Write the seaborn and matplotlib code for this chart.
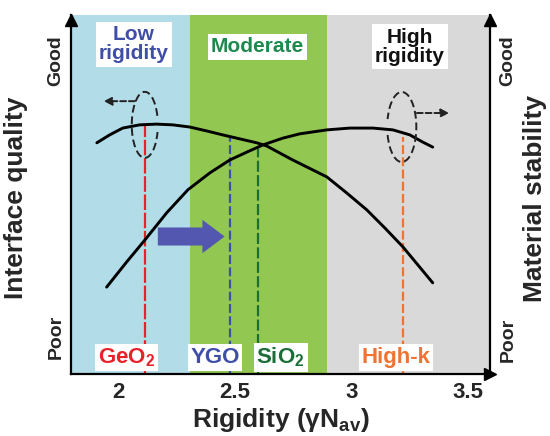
import numpy as np
import pandas as pd
import matplotlib
matplotlib.use("Agg")
import matplotlib.pyplot as plt
import seaborn as sns
from matplotlib.patches import Arc, FancyArrowPatch

# ---------------- data ----------------
region_labels = ["Low\nrigidity", "Moderate", "High\nrigidity"]
region_edges = [1.795, 2.305, 2.894, 3.595]
region_colors = ["#b1dce8", "#92c851", "#d9d9d9"]
region_text_colors = ["#3f4ea6", "#1d8a4e", "#111111"]
region_label_x = [2.064, 2.597, 3.25]
region_label_y = [0.919, 0.911, 0.911]

materials = ["GeO$_2$", "YGO", "SiO$_2$", "High-k"]
material_x = [2.112, 2.477, 2.597, 3.220]
material_top = [0.694, 0.660, 0.638, 0.660]
material_label_x = [2.034, 2.413, 2.696, 3.190]
material_colors = ["#e8212b", "#3f4fa8", "#1c6e38", "#ef7331"]

interface_x = [1.906, 1.961, 2.017, 2.090, 2.163, 2.232, 2.305, 2.378, 2.447,
               2.520, 2.593, 2.636, 2.748, 2.894, 2.980, 3.066, 3.143, 3.221,
               3.285, 3.349]
interface_y = [0.644, 0.666, 0.685, 0.694, 0.696, 0.694, 0.688, 0.677, 0.666,
               0.655, 0.644, 0.635, 0.596, 0.549, 0.504, 0.457, 0.407, 0.354,
               0.304, 0.254]

stability_x = [1.948, 2.034, 2.112, 2.206, 2.297, 2.391, 2.477, 2.550, 2.619,
               2.705, 2.778, 2.894, 2.993, 3.092, 3.178, 3.251, 3.306, 3.349]
stability_y = [0.242, 0.312, 0.373, 0.449, 0.513, 0.560, 0.596, 0.618, 0.638,
               0.657, 0.669, 0.680, 0.685, 0.685, 0.680, 0.666, 0.646, 0.632]

xticks = [2, 2.5, 3, 3.5]
xtick_labels = ["2", "2.5", "3", "3.5"]

# ---------------- style ----------------
sns.set_theme(style="white")
plt.rcParams["font.family"] = ["Liberation Sans", "DejaVu Sans"]
plt.rcParams["font.weight"] = "bold"
plt.rcParams["mathtext.fontset"] = "custom"
plt.rcParams["mathtext.rm"] = "Liberation Sans:bold"
plt.rcParams["mathtext.bf"] = "Liberation Sans:bold"
plt.rcParams["mathtext.it"] = "Liberation Sans:bold"
plt.rcParams["mathtext.default"] = "bf"

fig = plt.figure(figsize=(5.5, 4.36), dpi=100)
ax = fig.add_axes([0.1291, 0.1422, 0.7618, 0.8234])
ax.set_xlim(region_edges[0], region_edges[-1])
ax.set_ylim(0, 1)

# background regions
for i in range(3):
    ax.axvspan(region_edges[i], region_edges[i + 1], color=region_colors[i], lw=0, zorder=0)

# vertical material lines
dash_styles = [(7, 1.2), (4, 1.5), (5, 1.5), (4, 1.5)]
for xv, top, col, ds in zip(material_x, material_top, material_colors, dash_styles):
    ax.plot([xv, xv], [0, top], color=col, lw=1.6, dashes=ds, zorder=2)

# curves
df_a = pd.DataFrame({"x": interface_x, "y": interface_y})
df_b = pd.DataFrame({"x": stability_x, "y": stability_y})
sns.lineplot(data=df_a, x="x", y="y", ax=ax, color="black", lw=2.1, sort=False, zorder=3)
sns.lineplot(data=df_b, x="x", y="y", ax=ax, color="black", lw=2.1, sort=False, zorder=3)

# broken dashed ellipses and dashed arrows
ax.add_patch(Arc((2.112, 0.694), 0.112, 0.184, theta1=25, theta2=340, ec="#222222",
                 lw=1.4, ls=(0, (4, 2)), zorder=4))
ax.add_patch(Arc((3.216, 0.688), 0.125, 0.195, theta1=-160, theta2=160, ec="#222222",
                 lw=1.4, ls=(0, (4, 2)), zorder=4))
for (xs, xe, yy) in [(2.069, 1.935, 0.760), (3.281, 3.420, 0.727)]:
    ax.add_patch(FancyArrowPatch((xs, yy), (xe, yy), arrowstyle="-|>",
                                 mutation_scale=12, lw=1.4, ls=(0, (3, 1.5)),
                                 color="#222222", shrinkA=0, shrinkB=0, zorder=4))

# big blue arrow
ax.add_patch(FancyArrowPatch((2.168, 0.383), (2.455, 0.383),
                             arrowstyle="simple,head_width=24,head_length=16,tail_width=13",
                             mutation_scale=1, color="#5457b0", lw=0,
                             shrinkA=0, shrinkB=0, zorder=4))

# region labels
for lab, xl, yl, tc in zip(region_labels, region_label_x, region_label_y, region_text_colors):
    ax.text(xl, yl, lab, ha="center", va="center", fontsize=15, fontweight="bold",
            color=tc, linespacing=1.05, zorder=6,
            bbox=dict(boxstyle="square,pad=0.15", fc="white", ec="none"))

# material labels
for lab, xl, col in zip(materials, material_label_x, material_colors):
    ax.text(xl, 0.046, lab, ha="center", va="center", fontsize=16, fontweight="bold",
            color=col, zorder=6,
            bbox=dict(boxstyle="square,pad=0.12", fc="white", ec="none"))

# axes styling
ax.spines["top"].set_visible(False)
for s in ["left", "right", "bottom"]:
    ax.spines[s].set_visible(True)
    ax.spines[s].set_color("black")
    ax.spines[s].set_linewidth(1.6)
    ax.spines[s].set_zorder(7)

ax.plot([1], [0], marker=">", color="black", ms=8, transform=ax.transAxes, clip_on=False, zorder=8)
ax.plot([0], [0.985], marker="^", color="black", ms=8, transform=ax.transAxes, clip_on=False, zorder=8)
ax.plot([1], [0.985], marker="^", color="black", ms=8, transform=ax.transAxes, clip_on=False, zorder=8)

ax.set_xticks(xticks)
ax.set_xticklabels(xtick_labels)
ax.set_yticks([])
ax.tick_params(axis="x", length=0, pad=6, labelsize=16)
for t in ax.get_xticklabels():
    t.set_fontweight("bold")

ax.set_xlabel("Rigidity (γN$_{av}$)", fontsize=19, fontweight="bold", labelpad=2)
ax.set_ylabel("Interface quality", fontsize=19, fontweight="bold")
ax.yaxis.set_label_coords(-0.103, 0.49)

ax.text(1.107, 0.49, "Material stability", transform=ax.transAxes, rotation=90,
        ha="center", va="center", fontsize=19, fontweight="bold")
ax.text(-0.036, 0.872, "Good", transform=ax.transAxes, rotation=90,
        ha="center", va="center", fontsize=14, fontweight="bold")
ax.text(-0.036, 0.103, "Poor", transform=ax.transAxes, rotation=90,
        ha="center", va="center", fontsize=14, fontweight="bold")
ax.text(1.043, 0.872, "Good", transform=ax.transAxes, rotation=90,
        ha="center", va="center", fontsize=14, fontweight="bold")
ax.text(1.043, 0.095, "Poor", transform=ax.transAxes, rotation=90,
        ha="center", va="center", fontsize=14, fontweight="bold")

fig.savefig("out.png", dpi=100)
